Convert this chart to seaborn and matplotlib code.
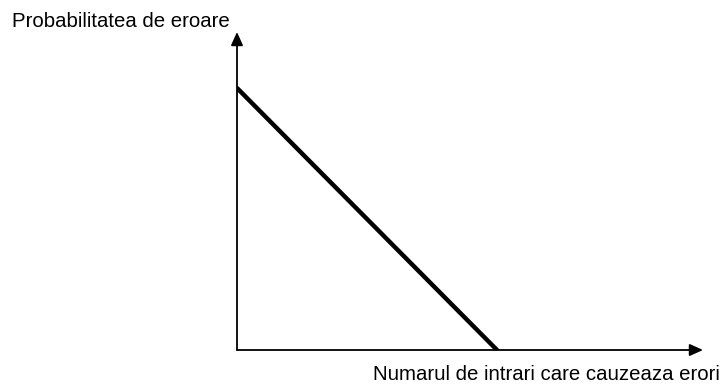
import matplotlib
matplotlib.use("Agg")
import matplotlib.pyplot as plt
import seaborn as sns
import pandas as pd

# Data: conceptual linear relationship
x_vals = [0.0, 1.0]
y_vals = [1.0, 0.0]
x_label = "Numarul de intrari care cauzeaza erori"
y_label = "Probabilitatea de eroare"

sns.set_theme(style="white")
plt.rcParams['font.family'] = ['Liberation Sans', 'DejaVu Sans']

W, H = 725, 387
fig = plt.figure(figsize=(W / 100, H / 100), dpi=100)
# axes spans from origin (237,350) to arrow tips (703,32)
ax = fig.add_axes([237 / W, (H - 350) / H, (703 - 237) / W, (350 - 32) / H])

df = pd.DataFrame({"x": x_vals, "y": y_vals})
sns.lineplot(data=df, x="x", y="y", ax=ax, color="black", linewidth=3.2)

ax.set_xlim(0, 466 / 260)
ax.set_ylim(0, 318 / 262)
for s in ax.spines.values():
    s.set_visible(False)
ax.set_xticks([])
ax.set_yticks([])
ax.set_xlabel("")
ax.set_ylabel("")
ax.patch.set_alpha(0)

arrow = dict(arrowstyle="-|>,head_length=0.8,head_width=0.36", color="black",
             lw=1.3, shrinkA=0, shrinkB=0, mutation_scale=10)
ax.annotate("", xy=(1, 0), xytext=(0, 0), xycoords="axes fraction",
            textcoords="axes fraction", arrowprops=arrow, annotation_clip=False)
ax.annotate("", xy=(0, 1), xytext=(0, 0), xycoords="axes fraction",
            textcoords="axes fraction", arrowprops=arrow, annotation_clip=False)

fig.text(12 / W, 1 - 27 / H, y_label, ha="left", va="baseline", fontsize=14.7, color="black")
fig.text(720 / W, 1 - 380 / H, x_label, ha="right", va="baseline", fontsize=14.7, color="black")

fig.savefig("out.png", dpi=100, facecolor="white")
